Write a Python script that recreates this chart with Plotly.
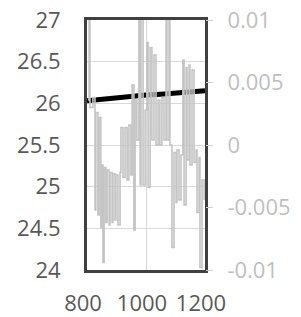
import plotly.graph_objects as go

# Primary series (left axis)
main_x = [800, 850, 900, 950, 1000, 1050, 1100, 1150, 1200]
main_y = [26.03, 26.05, 26.07, 26.08, 26.10, 26.11, 26.12, 26.14, 26.15]

# Secondary series (right axis)
sec_x = [803, 807, 810, 820, 827, 830, 837, 841, 847, 851, 854, 858, 864, 868,
         875, 878, 885, 888, 895, 898, 905, 912, 915, 922, 929, 936, 942, 949,
         953, 959, 963, 969, 976, 980, 983, 990, 997, 1003, 1007, 1014, 1020,
         1027, 1034, 1041, 1047, 1054, 1061, 1068, 1071, 1078, 1081, 1088, 1095,
         1102, 1105, 1112, 1119, 1125, 1129, 1136, 1139, 1146, 1149, 1156, 1163,
         1170, 1173, 1180, 1183, 1190, 1197]
sec_y = [0.0036, 0.011, 0.003, 0.0038, -0.0052, 0.0026, -0.0056, 0.0022, -0.0066,
         -0.0016, -0.0094, -0.0018, -0.0062, -0.002, -0.0064, -0.0022, -0.0062,
         -0.0023, -0.006, -0.0024, -0.0064, -0.0022, 0.0014, -0.0026, 0.0014,
         -0.0028, 0.0016, -0.0024, 0.0048, -0.0068, 0.0036, 0.0004, 0.011,
         -0.0032, 0.0104, -0.0032, 0.0028, 0.0082, -0.0034, 0.0078, 0.0004,
         0.0072, 0.0, 0.0036, 0.0, 0.0038, 0.0004, 0.011, 0.0004, 0.0104, 0.0,
         -0.0082, -0.0006, -0.0046, -0.0004, -0.0044, -0.0008, 0.0068, -0.0048,
         0.0062, -0.0012, 0.0064, -0.0016, 0.006, -0.0014, -0.0004, -0.0054,
         -0.001, -0.0098, -0.0028, -0.0044]

x_ticks = [800, 1000, 1200]
y_ticks = [24, 24.5, 25, 25.5, 26, 26.5, 27]
y2_ticks = [-0.01, -0.005, 0, 0.005, 0.01]
y2_text = ["-0.01", "-0.005", "0", "0.005", "0.01"]

font = "Open Sans, Liberation Sans, sans-serif"
fs = 22

fig = go.Figure()
fig.add_trace(go.Scatter(x=sec_x, y=sec_y, yaxis="y2", mode="lines",
                         line=dict(color="#c4c4c4", width=1.6, shape="hv"),
                         showlegend=False))
fig.add_trace(go.Scatter(x=main_x, y=main_y, mode="lines",
                         line=dict(color="#000000", width=5), showlegend=False))

# page body has an 8px margin, so the figure is sized/offset to compensate
fig.update_layout(
    width=293, height=309,
    margin=dict(l=79, r=96, t=12, b=47),
    paper_bgcolor="white", plot_bgcolor="white",
    font=dict(family=font, size=fs, color="#595959"),
    xaxis=dict(range=[800, 1200], tickvals=x_ticks, showgrid=True,
               gridcolor="#d9d9d9", gridwidth=1, showline=True, mirror=True,
               linecolor="#404040", linewidth=3, ticks="", zeroline=False,
               automargin=False, ticklabelstandoff=12, ticklabelshift=-4,
               ticklabeloverflow="allow",
               tickfont=dict(color="#595959", size=fs)),
    yaxis=dict(range=[24, 27], tickvals=y_ticks, showgrid=True,
               gridcolor="#d9d9d9", gridwidth=1, showline=True, mirror=True,
               linecolor="#404040", linewidth=3, ticks="", zeroline=False,
               automargin=False, ticklabelstandoff=19,
               ticklabeloverflow="allow",
               tickfont=dict(color="#595959", size=fs)),
    yaxis2=dict(range=[-0.01, 0.01], tickvals=y2_ticks, ticktext=y2_text,
                overlaying="y", side="right", showgrid=False, zeroline=False,
                automargin=False, ticklabeloverflow="allow",
                ticks="outside", ticklen=7, tickcolor="#d0d0d0", tickwidth=1,
                ticklabelstandoff=10, tickfont=dict(color="#bfbfbf", size=fs)),
)

fig.write_html("out.html")
